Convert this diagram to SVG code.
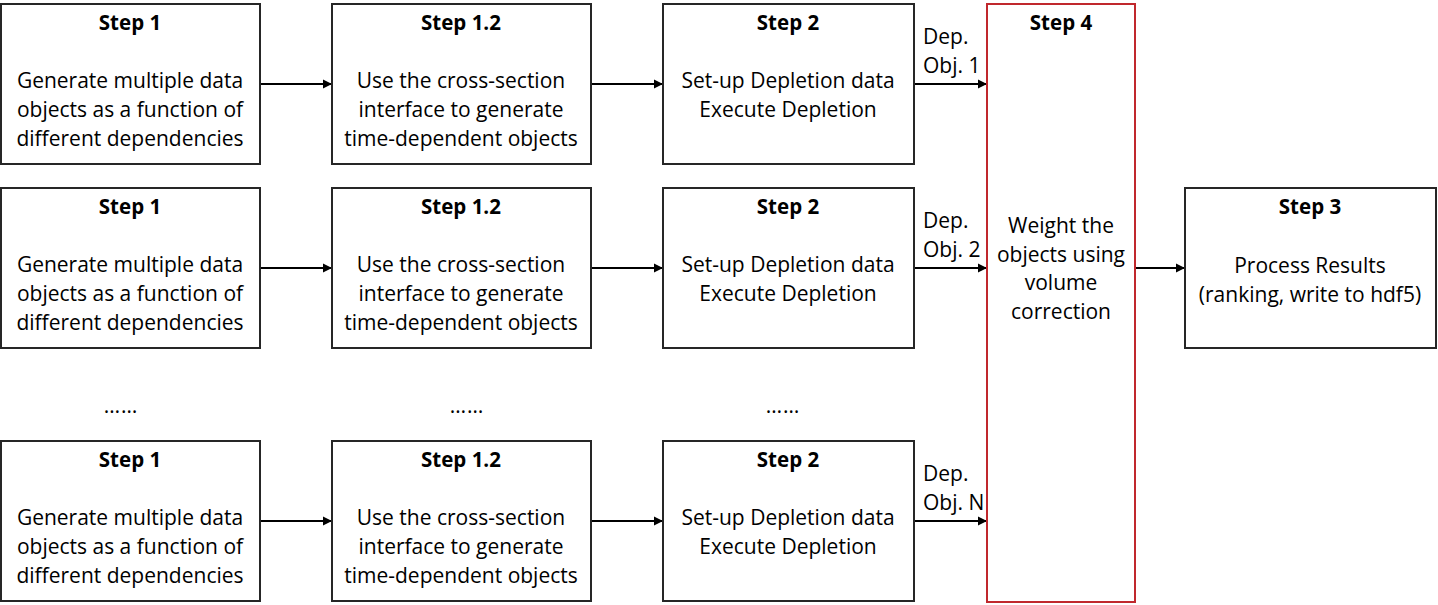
<svg xmlns="http://www.w3.org/2000/svg" width="1438" height="605" viewBox="0 0 1438 605">
<defs>
<style>
.box{fill:#fff;stroke:#262626;stroke-width:2}
.red{fill:#fff;stroke:#C0282D;stroke-width:2}
text{font-family:"Open Sans","Liberation Sans",sans-serif;font-size:21px;fill:#000}
.t{font-weight:bold;text-anchor:middle;font-size:20.5px}
.c{text-anchor:middle}
.d{text-anchor:middle;letter-spacing:1px}
.conn{stroke:#000;stroke-width:2;fill:none;marker-end:url(#ah)}
</style>
<marker id="ah" markerWidth="10" markerHeight="10" refX="9" refY="5" orient="auto" markerUnits="userSpaceOnUse">
<path d="M0,0.5 L9,5 L0,9.5 Z" fill="#000"/>
</marker>
</defs>
<rect width="1438" height="605" fill="#fff"/>

<g id="connectors">
<line class="conn" x1="261" y1="84" x2="332" y2="84"/>
<line class="conn" x1="592" y1="84" x2="663" y2="84"/>
<line class="conn" x1="915" y1="84" x2="987" y2="84"/>
<line class="conn" x1="261" y1="268" x2="332" y2="268"/>
<line class="conn" x1="592" y1="268" x2="663" y2="268"/>
<line class="conn" x1="915" y1="268" x2="987" y2="268"/>
<line class="conn" x1="261" y1="521" x2="332" y2="521"/>
<line class="conn" x1="592" y1="521" x2="663" y2="521"/>
<line class="conn" x1="915" y1="521" x2="987" y2="521"/>
<line class="conn" x1="1136" y1="268" x2="1185" y2="268"/>
<text x="923" y="44">Dep.</text><text x="923" y="73">Obj. 1</text>
<text x="923" y="228">Dep.</text><text x="923" y="257">Obj. 2</text>
<text x="923" y="481">Dep.</text><text x="923" y="510">Obj. N</text>
</g>

<g id="r1s1"><rect class="box" x="1" y="4" width="259" height="160"/>
<text class="t" x="130" y="30">Step 1</text>
<text class="c" x="130" y="88">Generate multiple data</text>
<text class="c" x="130" y="117">objects as a function of</text>
<text class="c" x="130" y="146">different dependencies</text></g>
<g id="r1s12"><rect class="box" x="332" y="4" width="259" height="160"/>
<text class="t" x="461" y="30">Step 1.2</text>
<text class="c" x="461" y="88">Use the cross-section</text>
<text class="c" x="461" y="117">interface to generate</text>
<text class="c" x="461" y="146">time-dependent objects</text></g>
<g id="r1s2"><rect class="box" x="663" y="4" width="251" height="160"/>
<text class="t" x="788" y="30">Step 2</text>
<text class="c" x="788" y="88">Set-up Depletion data</text>
<text class="c" x="788" y="117">Execute Depletion</text></g>

<g id="r2s1"><rect class="box" x="1" y="188" width="259" height="160"/>
<text class="t" x="130" y="214">Step 1</text>
<text class="c" x="130" y="272">Generate multiple data</text>
<text class="c" x="130" y="301">objects as a function of</text>
<text class="c" x="130" y="330">different dependencies</text></g>
<g id="r2s12"><rect class="box" x="332" y="188" width="259" height="160"/>
<text class="t" x="461" y="214">Step 1.2</text>
<text class="c" x="461" y="272">Use the cross-section</text>
<text class="c" x="461" y="301">interface to generate</text>
<text class="c" x="461" y="330">time-dependent objects</text></g>
<g id="r2s2"><rect class="box" x="663" y="188" width="251" height="160"/>
<text class="t" x="788" y="214">Step 2</text>
<text class="c" x="788" y="272">Set-up Depletion data</text>
<text class="c" x="788" y="301">Execute Depletion</text></g>

<g id="dots">
<text class="d" x="121" y="413">……</text>
<text class="d" x="467" y="413">……</text>
<text class="d" x="783" y="413">……</text>
</g>

<g id="r3s1"><rect class="box" x="1" y="441" width="259" height="160"/>
<text class="t" x="130" y="467">Step 1</text>
<text class="c" x="130" y="525">Generate multiple data</text>
<text class="c" x="130" y="554">objects as a function of</text>
<text class="c" x="130" y="583">different dependencies</text></g>
<g id="r3s12"><rect class="box" x="332" y="441" width="259" height="160"/>
<text class="t" x="461" y="467">Step 1.2</text>
<text class="c" x="461" y="525">Use the cross-section</text>
<text class="c" x="461" y="554">interface to generate</text>
<text class="c" x="461" y="583">time-dependent objects</text></g>
<g id="r3s2"><rect class="box" x="663" y="441" width="251" height="160"/>
<text class="t" x="788" y="467">Step 2</text>
<text class="c" x="788" y="525">Set-up Depletion data</text>
<text class="c" x="788" y="554">Execute Depletion</text></g>

<g id="step4"><rect class="red" x="987" y="4" width="148" height="598"/>
<text class="t" x="1061" y="30">Step 4</text>
<text class="c" x="1061" y="233">Weight the</text>
<text class="c" x="1061" y="262">objects using</text>
<text class="c" x="1061" y="290">volume</text>
<text class="c" x="1061" y="319">correction</text></g>

<g id="step3"><rect class="box" x="1185" y="188" width="251" height="160"/>
<text class="t" x="1310" y="214">Step 3</text>
<text class="c" x="1310" y="273">Process Results</text>
<text class="c" x="1310" y="302">(ranking, write to hdf5)</text></g>
</svg>
